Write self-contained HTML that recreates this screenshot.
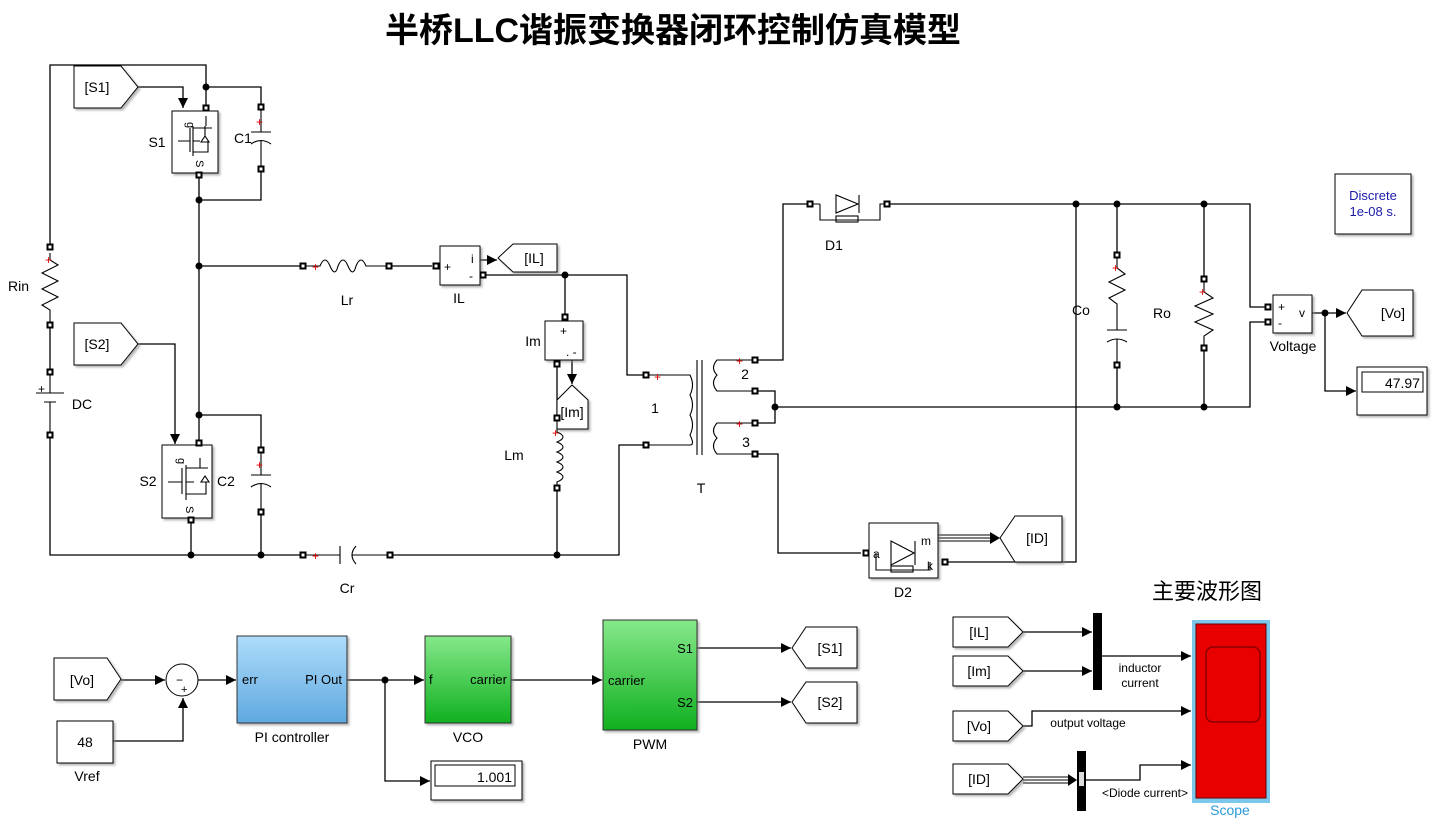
<!DOCTYPE html>
<html><head><meta charset="utf-8"><style>
html,body{margin:0;padding:0;background:#fff;}
svg{display:block;font-family:"Liberation Sans","Noto Sans CJK SC",sans-serif;}
</style></head><body>
<svg width="1441" height="819" viewBox="0 0 1441 819" xmlns="http://www.w3.org/2000/svg">
<defs>
<g id="p"><rect x="-3.5" y="-3.5" width="7" height="7" fill="#000"/><rect x="-1.5" y="-1.5" width="3" height="3" fill="#fff"/></g>
<g id="dot"><circle r="3.5" fill="#000"/></g>
<marker id="ar" viewBox="0 0 10 10" refX="10" refY="5" markerWidth="10" markerHeight="10" markerUnits="userSpaceOnUse" orient="auto"><path d="M0,0L10,5L0,10z" fill="#000"/></marker>
<linearGradient id="gb" x1="0" y1="0" x2="0" y2="1"><stop offset="0" stop-color="#aedcfa"/><stop offset="1" stop-color="#5fa9e0"/></linearGradient>
<linearGradient id="gg" x1="0" y1="0" x2="0" y2="1"><stop offset="0" stop-color="#86e88a"/><stop offset="1" stop-color="#10b020"/></linearGradient>
<filter id="sh" x="-10%" y="-10%" width="130%" height="130%"><feDropShadow dx="2" dy="2" stdDeviation="1" flood-color="#888" flood-opacity="0.6"/></filter>
</defs>

<text x="673" y="42" font-size="34" font-weight="bold" text-anchor="middle">半桥LLC谐振变换器闭环控制仿真模型</text>

<g fill="none" stroke="#000" stroke-width="1.3">
<path d="M50,244V65H206V106"/>
<path d="M50,328V369"/>
<path d="M50,438V555H302"/>
<path d="M138,87H183V108" marker-end="url(#ar)"/>
<path d="M206,87H261V104"/>
<path d="M199,176V415"/>
<path d="M199,200H261V172"/>
<path d="M199,266H300"/>
<path d="M199,415V441"/>
<path d="M199,415H261V447"/>
<path d="M261,515V555"/>
<path d="M191,521V555"/>
<path d="M138,344H175V444" marker-end="url(#ar)"/>
<path d="M393,555H619V445H643"/>
<path d="M392,266H432"/>
<path d="M480,260H497" marker-end="url(#ar)"/>
<path d="M486,275H627V375H643"/>
<path d="M565,275V314"/>
<path d="M557,364V415"/>
<path d="M572,360V384" marker-end="url(#ar)"/>
<path d="M557,491V555"/>
<path d="M758,360H783V204H807"/>
<path d="M758,391H775V423H758"/>
<path d="M775,407H1250V322H1265"/>
<path d="M758,454H778V553H861"/>
<path d="M890,204H1250V307H1265"/>
<path d="M1076,204V562H948"/>
<path d="M1117,204V252"/>
<path d="M1117,368V407"/>
<path d="M1204,204V276"/>
<path d="M1204,351V407"/>
<path d="M1312,313H1346" marker-end="url(#ar)"/>
<path d="M1325,313V391H1356" marker-end="url(#ar)"/>
<path d="M121,680H165" marker-end="url(#ar)"/>
<path d="M113,741H183V698" marker-end="url(#ar)"/>
<path d="M198,680H236" marker-end="url(#ar)"/>
<path d="M347,680H424" marker-end="url(#ar)"/>
<path d="M385,680V781H430" marker-end="url(#ar)"/>
<path d="M511,680H602" marker-end="url(#ar)"/>
<path d="M697,648H791" marker-end="url(#ar)"/>
<path d="M697,702H791" marker-end="url(#ar)"/>
<path d="M1023,632H1092" marker-end="url(#ar)"/>
<path d="M1023,671H1092" marker-end="url(#ar)"/>
<path d="M1102,656H1191" marker-end="url(#ar)"/>
<path d="M1023,726H1032V711H1191" marker-end="url(#ar)"/>
<path d="M1086,780H1140V765H1191" marker-end="url(#ar)"/>
</g>
<g stroke="#000" stroke-width="1" fill="none">
<path d="M938,535H992M938,538H992M938,541H992"/>
<path d="M1023,777H1070M1023,780H1070M1023,783H1070"/>
</g>
<path d="M990,532L1000,538L990,544z"/>
<path d="M1068,774L1077,780L1068,786z"/>

<g fill="#fff" stroke="#000" stroke-width="1" filter="url(#sh)">
<path d="M74,66H121L138,87L121,108H74z"/>
<path d="M74,323H121L138,344L121,365H74z"/>
<path d="M557,244H513L498,258L513,272H557z"/>
<path d="M557,429V400L572,385L588,400V429z"/>
<path d="M1413,290H1362L1347,313L1362,336H1413z"/>
<path d="M1062,516H1015L1000,538L1015,562H1062z"/>
<path d="M54,658H107L121,679L107,700H54z"/>
<path d="M857,627H806L792,648L806,668H857z"/>
<path d="M857,682H806L792,702L806,723H857z"/>
<path d="M953,617H1008L1023,632L1008,647H953z"/>
<path d="M953,656H1008L1023,671L1008,686H953z"/>
<path d="M953,711H1008L1023,726L1008,741H953z"/>
<path d="M953,764H1008L1023,779L1008,794H953z"/>
<rect x="57" y="721" width="56" height="42"/>
<rect x="440" y="246" width="40" height="39"/>
<rect x="545" y="321" width="38" height="39"/>
<rect x="172" y="111" width="46" height="62"/>
<rect x="162" y="445" width="50" height="73"/>
<rect x="869" y="523" width="69" height="55"/>
<rect x="1273" y="295" width="39" height="38"/>
<rect x="1357" y="367" width="70" height="48"/>
<rect x="1335" y="174" width="76" height="60"/>
<rect x="431" y="761" width="91" height="39"/>
</g>
<rect x="1362" y="372" width="61" height="20" fill="none" stroke="#000"/>
<rect x="435" y="765" width="80" height="21" fill="none" stroke="#000"/>
<g font-size="14" text-anchor="middle">
<text x="97" y="92">[S1]</text><text x="97" y="349">[S2]</text>
<text x="534" y="263">[IL]</text><text x="572" y="417">[Im]</text>
<text x="1393" y="318">[Vo]</text><text x="1037" y="543">[ID]</text>
<text x="82" y="685">[Vo]</text><text x="85" y="747">48</text>
<text x="830" y="653">[S1]</text><text x="830" y="707">[S2]</text>
<text x="979" y="637">[IL]</text><text x="979" y="676">[Im]</text>
<text x="979" y="731">[Vo]</text><text x="979" y="784">[ID]</text>
</g>
<g font-size="14" text-anchor="end"><text x="1420" y="388">47.97</text><text x="512" y="782">1.001</text></g>
<text x="1373" y="200" font-size="13" fill="#1a1aaa" text-anchor="middle">Discrete</text>
<text x="1373" y="216" font-size="13" fill="#1a1aaa" text-anchor="middle">1e-08 s.</text>

<circle cx="182" cy="680" r="16" fill="#fff" stroke="#000"/>
<text x="176" y="684" font-size="12">−</text><text x="181" y="693" font-size="11">+</text>
<rect x="237" y="636" width="110" height="87" fill="url(#gb)" stroke="#333" filter="url(#sh)"/>
<rect x="425" y="636" width="86" height="87" fill="url(#gg)" stroke="#333" filter="url(#sh)"/>
<rect x="603" y="620" width="94" height="110" fill="url(#gg)" stroke="#333" filter="url(#sh)"/>
<g font-size="13">
<text x="242" y="684">err</text><text x="342" y="684" text-anchor="end">PI Out</text>
<text x="429" y="684">f</text><text x="507" y="684" text-anchor="end">carrier</text>
<text x="608" y="685">carrier</text><text x="693" y="653" text-anchor="end">S1</text><text x="693" y="707" text-anchor="end">S2</text>
</g>
<g font-size="14" text-anchor="middle">
<text x="292" y="742">PI controller</text><text x="468" y="742">VCO</text><text x="650" y="749">PWM</text>
<text x="87" y="781">Vref</text>
<text x="82" y="409">DC</text>
<text x="157" y="147">S1</text><text x="243" y="143">C1</text>
<text x="148" y="486">S2</text><text x="226" y="486">C2</text>
<text x="347" y="305">Lr</text><text x="459" y="303">IL</text>
<text x="533" y="346">Im</text><text x="514" y="460">Lm</text>
<text x="347" y="593">Cr</text>
<text x="655" y="413">1</text><text x="745" y="379">2</text><text x="746" y="447">3</text>
<text x="701" y="493">T</text>
<text x="834" y="250">D1</text><text x="903" y="597">D2</text>
<text x="1081" y="315">Co</text><text x="1162" y="318">Ro</text>
<text x="1293" y="351">Voltage</text>
</g>
<text x="29" y="291" font-size="14" text-anchor="end">Rin</text>
<text x="1207" y="599" font-size="22" text-anchor="middle">主要波形图</text>
<rect x="1093" y="613" width="9" height="77" fill="#000"/>
<rect x="1077" y="751" width="9" height="60" fill="#000"/>
<rect x="1079" y="772" width="5" height="14" fill="#ddd"/>
<g font-size="12" text-anchor="middle">
<text x="1140" y="672">inductor</text><text x="1140" y="687">current</text>
<text x="1088" y="727">output voltage</text>
<text x="1145" y="797">&lt;Diode current&gt;</text>
</g>
<rect x="1192" y="620" width="78" height="183" fill="#7cc8ec"/>
<rect x="1196" y="624" width="70" height="174" fill="#e80000" stroke="#600"/>
<rect x="1206" y="647" width="54" height="75" rx="7" fill="none" stroke="#700" stroke-width="1.2"/>
<text x="1230" y="815" font-size="14" fill="#2a9ad8" text-anchor="middle">Scope</text>

<g fill="none" stroke="#000" stroke-width="1.1">
<path d="M50,253V260L58,265L42,273L58,281L42,289L58,297L42,305L50,310V322"/>
<path d="M50,375V393M36,393H64M44,402H56M50,402V432"/>
<path d="M261,110V132M251,132H271M251,144Q261,137 271,144M261,140V166"/>
<path d="M261,453V475M251,475H271M251,487Q261,480 271,487M261,483V509"/>
<path d="M305,555H340M340,546V564M356,546Q348,555 356,564M352,555H387"/>
<path d="M306,266H320 q5,-12 10,0 q5,12 8,0 q5,-12 10,0 q5,12 8,0 q5,-12 10,0 H386"/>
<path d="M557,421V432 q12,5 0,10 q12,5 0,10 q12,5 0,10 q12,5 0,10 q12,5 0,10 V485"/>
<path d="M649,375H690Q695,385 690,395Q695,405 690,415Q695,425 690,435Q695,445 690,445H649"/>
<path d="M697,360V455M702,360V455"/>
<path d="M752,360H717Q710,368 717,375Q710,383 717,391H752"/>
<path d="M752,423H717Q710,431 717,438Q710,446 717,454H752"/>
<path d="M813,204H820M820,204V220H880V204H884M836,195V213L858,204Z M859,195V213"/>
<rect x="836" y="216" width="22" height="6"/>
<path d="M891,541V565L914,553Z M915,541V565 M876,553V570H930V562"/>
<rect x="891" y="566" width="22" height="6"/>
<path d="M1117,258V268L1125,274L1109,282L1125,290L1109,298L1117,304V330M1107,330H1127M1107,342Q1117,336 1127,342M1117,339V362"/>
<path d="M1204,282V292L1213,298L1195,306L1213,314L1195,322L1213,330L1204,336V345"/>
<path d="M178,141H190M190,128V152M193,126V156M193,128H212M193,141H200M193,152H208V141M206,116V126M205,136l-4,6h8z M205,136V126"/>
<path d="M168,482H182M182,468V494M186,465V500M186,468H208M186,482H194M186,494H206V482M200,458V468M205,476l-4,6h8z"/>
</g>
<g font-size="11"><text x="187" y="122" transform="rotate(90 187 122)">g</text><text x="196" y="160" transform="rotate(90 196 160)">S</text>
<text x="178" y="458" transform="rotate(90 178 458)">g</text><text x="186" y="506" transform="rotate(90 186 506)">S</text></g>
<g font-size="12"><text x="471" y="263">i</text><text x="469" y="280">-</text><text x="444" y="271">+</text>
<text x="560" y="335">+</text><text x="566" y="356">. -</text>
<text x="1278" y="311">+</text><text x="1278" y="327">-</text><text x="1299" y="317">v</text>
<text x="873" y="558">a</text><text x="921" y="545">m</text><text x="927" y="570">k</text>
<text x="38" y="393">+</text></g>
<g fill="#d00" font-size="12"><text x="45" y="264">+</text><text x="256" y="126">+</text><text x="256" y="469">+</text>
<text x="312" y="271">+</text><text x="312" y="560">+</text><text x="552" y="437">+</text><text x="654" y="381">+</text>
<text x="736" y="365">+</text><text x="736" y="428">+</text><text x="1112" y="272">+</text><text x="1199" y="296">+</text></g>

<g>
<use href="#p" x="50" y="247"/><use href="#p" x="50" y="325"/><use href="#p" x="50" y="372"/><use href="#p" x="50" y="435"/>
<use href="#p" x="206" y="108"/><use href="#p" x="199" y="175"/><use href="#p" x="199" y="443"/><use href="#p" x="191" y="520"/>
<use href="#p" x="261" y="107"/><use href="#p" x="261" y="169"/><use href="#p" x="261" y="450"/><use href="#p" x="261" y="512"/>
<use href="#p" x="303" y="266"/><use href="#p" x="389" y="266"/><use href="#p" x="303" y="555"/><use href="#p" x="390" y="555"/>
<use href="#p" x="436" y="266"/><use href="#p" x="483" y="275"/><use href="#p" x="565" y="317"/><use href="#p" x="557" y="364"/>
<use href="#p" x="557" y="418"/><use href="#p" x="557" y="488"/>
<use href="#p" x="646" y="375"/><use href="#p" x="646" y="445"/>
<use href="#p" x="755" y="360"/><use href="#p" x="755" y="391"/><use href="#p" x="755" y="423"/><use href="#p" x="755" y="454"/>
<use href="#p" x="810" y="204"/><use href="#p" x="887" y="204"/><use href="#p" x="866" y="553"/><use href="#p" x="945" y="562"/>
<use href="#p" x="1117" y="255"/><use href="#p" x="1117" y="365"/><use href="#p" x="1204" y="279"/><use href="#p" x="1204" y="348"/>
<use href="#p" x="1268" y="307"/><use href="#p" x="1268" y="322"/>
</g>
<g>
<use href="#dot" x="206" y="87"/><use href="#dot" x="199" y="200"/><use href="#dot" x="199" y="266"/><use href="#dot" x="199" y="415"/>
<use href="#dot" x="191" y="555"/><use href="#dot" x="261" y="555"/><use href="#dot" x="565" y="275"/><use href="#dot" x="557" y="555"/>
<use href="#dot" x="775" y="407"/><use href="#dot" x="1076" y="204"/><use href="#dot" x="1117" y="204"/><use href="#dot" x="1204" y="204"/>
<use href="#dot" x="1117" y="407"/><use href="#dot" x="1204" y="407"/><use href="#dot" x="1325" y="313"/><use href="#dot" x="385" y="680"/>
</g>
</svg>
</body></html>
